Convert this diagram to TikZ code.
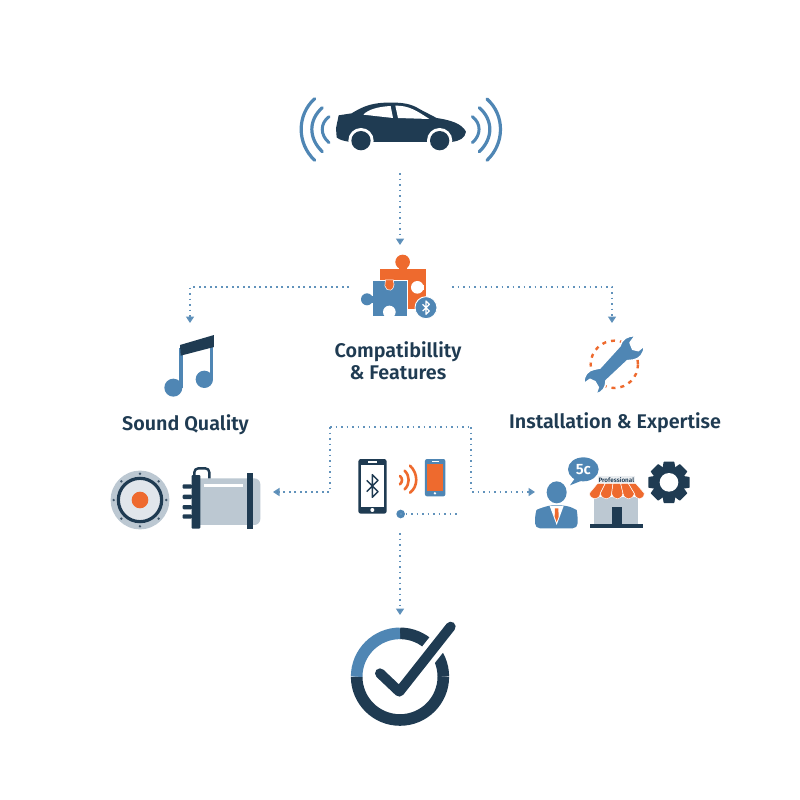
\documentclass[tikz,border=0pt]{standalone}
\usepackage{fontspec}
\setmainfont{Fira Sans SemiBold}
\usetikzlibrary{arrows.meta,calc}
\definecolor{navy}{HTML}{1F3B52}
\definecolor{steel}{HTML}{4F86B4}
\definecolor{flame}{HTML}{EE6A2E}
\definecolor{ash}{HTML}{BCC8D2}
\tikzset{
  px/.style={x=1pt,y=-1pt},
  zoomed/.style 2 args={xshift=#1pt,yshift=-#2pt,x=.3333pt,y=-.3333pt},
  flow/.style={draw=steel!90,line width=1.9pt,dash pattern=on 1.9pt off 3.6pt,-{Triangle[length=6.5pt,width=8pt,fill=steel]}},
  flowplain/.style={draw=steel!90,line width=1.9pt,dash pattern=on 1.9pt off 3.6pt},
  title/.style={text=navy,font=\fontsize{19.75}{22}\selectfont,align=center,inner sep=0pt},
  wave/.style={draw=steel,line width=3.2pt,line cap=round},
  owave/.style={draw=flame,line width=2.6pt,line cap=round},
  awning/.style={fill=flame,draw=white,line width=.5pt,line join=round},
}
\newcommand{\btsym}[3]{% x y size
  (#1-.5*#3,#2+.5*#3) -- (#1+.5*#3,#2-.5*#3) -- (#1,#2-#3) -- (#1,#2+#3) -- (#1+.5*#3,#2+.5*#3) -- (#1-.5*#3,#2-.5*#3)}
\begin{document}
\begin{tikzpicture}[px]
\useasboundingbox (0,0) rectangle (800,800);
\fill[white] (0,0) rectangle (800,800);

% named connector ends
\coordinate (carOut) at (400,173);
\coordinate (puzzleIn) at (400,245);
\coordinate (puzzleL) at (349,287);
\coordinate (puzzleR) at (452,287);
\coordinate (noteIn) at (190,323);
\coordinate (wrenchIn) at (612,323);
\coordinate (busL) at (330,427);
\coordinate (busR) at (471,427);
\coordinate (ampIn) at (273,492);
\coordinate (shopIn) at (535,492);
\coordinate (phoneOut) at (400,533);
\coordinate (checkIn) at (400,615);
\coordinate (linkStart) at (400,514);
\coordinate (linkEnd) at (457,514);

% car
\begin{scope}[zoomed={280}{80}]
\fill[navy] (176,106) -- (215,100) .. controls (240,85) and (265,70) .. (315,68)
  .. controls (370,66) and (395,72) .. (420,88) -- (470,114)
  .. controls (510,120) and (545,130) .. (558,155)
  .. controls (555,175) and (540,182) .. (515,186) -- (210,186)
  .. controls (190,182) and (178,180) .. (170,172) -- (168,145) -- (176,106) -- cycle;
\fill[white] (250,104) .. controls (265,88) and (295,80) .. (332,78) -- (339,114) -- cycle;
\fill[white] (346,77) .. controls (385,76) and (410,92) .. (448,117) -- (354,114) -- cycle;
\fill[white] (243,182) circle (38);
\fill[white] (479,182) circle (38);
\fill[white] (200,187) rectangle (290,215);
\fill[white] (440,187) rectangle (520,215);
\fill[navy] (243,182) circle (29);
\fill[navy] (479,182) circle (29);
\draw[wave,line width=3pt] (147,110) .. controls (120,130) and (120,165) .. (147,188);
\draw[wave] (127,83) .. controls (85,120) and (85,175) .. (127,215);
\draw[wave] (104,56) .. controls (50,105) and (50,190) .. (104,241);
\draw[wave,line width=3pt] (577,110) .. controls (604,130) and (604,165) .. (577,188);
\draw[wave] (598,83) .. controls (640,120) and (640,175) .. (598,215);
\draw[wave] (621,57) .. controls (675,105) and (675,190) .. (621,241);
\end{scope}

% puzzle
\begin{scope}[zoomed={330}{240}]
\fill[flame] (150,88) rectangle (288,180);
\fill[flame] (232,170) rectangle (262,206);
\fill[flame] (218,66) circle (22);
\fill[flame] (206,78) rectangle (230,90);
\fill[white] (262,142) circle (19);
\fill[white] (262,134) rectangle (282,150);
\filldraw[fill=steel,draw=white,line width=.6pt] (128,120) rectangle (232,228);
\fill[steel] (111,178) circle (18);
\fill[steel] (122,168) rectangle (130,188);
\filldraw[fill=flame,draw=white,line width=.5pt] (166,120) -- (166,124) arc (210:-30:14 and 18) -- (190,120) -- cycle;
\fill[white] (178,216) circle (19);
\fill[white] (168,216) rectangle (188,229.5);
\fill[steel] (288,203) circle (33);
\draw[white,line width=.9pt] (288,203) circle (33);
\draw[white,line width=1.2pt,line join=round] \btsym{288}{203}{20};
\end{scope}

\node[title] (compat) at (398,360.5) {Compatibillity\\[-.5pt]\& Features};
\node[title] (sound) at (185.5,424.5) {Sound Quality};
\node[title] (install) at (615,422.5) {Installation \& Expertise};

% note
\begin{scope}[zoomed={150}{325}]
\fill[steel] (70,188) circle (27);
\fill[steel] (163,163) circle (26);
\fill[steel] (88,70) rectangle (98,188);
\fill[steel] (180,40) rectangle (190,163);
\fill[navy] (90,60) -- (192,30) -- (192,66) -- (92,92) -- cycle;
\end{scope}

% wrench
\begin{scope}[zoomed={570}{330}]
\draw[flame,line width=2.4pt,dash pattern=on 4pt off 5pt] (133,103) circle (71);
\filldraw[fill=steel,draw=white,line width=1.5pt,line join=round]
  (150,48) .. controls (155,28) and (172,16) .. (195,18) -- (180,38) -- (188,58) -- (205,62) -- (222,48)
  .. controls (224,70) and (208,88) .. (190,90) -- (172,92) -- (108,152)
  .. controls (108,172) and (98,188) .. (78,192) -- (85,172) -- (75,155) -- (60,148) -- (43,160)
  .. controls (38,138) and (55,120) .. (72,118) -- (90,114) -- cycle;
\end{scope}

% speaker and amplifier
\begin{scope}[zoomed={100}{450}]
\fill[ash] (120,150) circle (88);
\fill[white!55!ash] (120,150) circle (65);
\draw[navy,line width=3.2pt] (120,150) circle (65);
\fill[flame] (120,150) circle (25);
\foreach \a in {0,45,...,315} \fill[navy!85] ($(120,150)+(\a:79)$) circle (4);
\fill[ash,rounded corners=6pt] (280,85) rectangle (481,225);
\draw[navy,line width=2.4pt,rounded corners=4pt] (283,80) -- (283,55) -- (328,55) -- (328,85);
\fill[navy,rounded corners=1pt] (275,75) rectangle (301,236);
\foreach \y in {103,134,165,193} \fill[navy,rounded corners=1pt] (248,\y) rectangle (276,\y+13);
\fill[white] (312,102) rectangle (428,112);
\fill[navy] (442,70) rectangle (458,236);
\end{scope}

% phones
\begin{scope}[zoomed={340}{450}]
\fill[navy,rounded corners=2.5pt] (55,27) rectangle (140,191);
\fill[white] (62,44) rectangle (133,170);
\fill[white] (85,34) rectangle (110,38);
\fill[white] (97,180) circle (6);
\draw[navy,line width=1.5pt,line join=round] \btsym{97}{108}{34};
\draw[owave,line width=2.6pt] (180,78) .. controls (188,85) and (188,95) .. (180,103);
\draw[owave] (194,62) .. controls (210,78) and (210,102) .. (194,118);
\draw[owave] (210,47) .. controls (235,70) and (235,110) .. (210,128);
\fill[steel,rounded corners=2pt] (255,27) rectangle (316,139);
\fill[flame] (262,41) rectangle (310,122);
\fill[white] (285,130) circle (4);
\fill[white] (275,32) rectangle (296,36);
\fill[steel] (182,192) circle (13);
\end{scope}

% person, shop, gear
\begin{scope}[zoomed={525}{450}]
\fill[steel] (95,127) ellipse (30 and 33);
\fill[steel,rounded corners=5pt] (30,235) -- (30,195) .. controls (35,178) and (55,172) .. (72,166) -- (118,166) .. controls (140,172) and (155,180) .. (158,195) -- (158,235) -- cycle;
\fill[white] (74,168) -- (116,168) -- (95,225) -- cycle;
\fill[flame] (90,175) -- (100,175) -- (101,200) -- (95,216) -- (89,200) -- cycle;
\fill[steel] (175,58) ellipse (46 and 36);
\fill[steel] (150,85) -- (135,106) -- (175,90) -- cycle;
\node[text=white,font=\fontsize{15}{15}\selectfont,inner sep=0pt] (fivec) at (175,58) {5c};
\fill[ash] (208,140) rectangle (338,225);
\fill[navy] (260,170) rectangle (290,225);
\fill[navy] (195,222) rectangle (353,234);
\fill[white!70!ash] (218,78) rectangle (330,100);
\node[text=navy,font=\fontsize{6.3}{7}\selectfont,inner sep=0pt] (prof) at (274,89) {Professional};
\path[awning] (218,100) -- (193,130) .. controls (196,152) and (224,152) .. (226,130) -- (241,100) -- cycle;
\path[awning] (241,100) -- (226,130) .. controls (230,152) and (258,152) .. (260,130) -- (264,100) -- cycle;
\path[awning] (264,100) -- (260,130) .. controls (264,152) and (290,152) .. (294,130) -- (287,100) -- cycle;
\path[awning] (287,100) -- (294,130) .. controls (298,152) and (324,152) .. (328,130) -- (310,100) -- cycle;
\path[awning] (310,100) -- (328,130) .. controls (332,152) and (356,152) .. (358,130) -- (332,100) -- cycle;
\fill[navy] (432,97) circle (48);
\foreach \a in {0,45,...,315} \fill[navy,rotate around={\a:(432,97)},rounded corners=.5pt] (416,35) -- (448,35) -- (452,60) -- (412,60) -- cycle;
\fill[white] (432,97) circle (28);
\end{scope}

% check
\begin{scope}[zoomed={340}{610}]
\draw[navy,line width=11.6pt] (50,200) arc (180:0:130);
\draw[navy,line width=11.6pt] (180,70) arc (-90:0:130);
\draw[steel,line width=11.6pt] (50,200) arc (180:270:130);
\draw[white,line width=20pt] (178,245) -- (332,50);
\draw[navy,line width=10pt,line cap=round,line join=round] (120,190) -- (178,245) -- (332,50);
\end{scope}

% connectors
\draw[flow] (carOut) -- (puzzleIn);
\draw[flow] (puzzleL) -| (noteIn);
\draw[flow] (puzzleR) -| (wrenchIn);
\draw[flow] (busL) |- (ampIn);
\draw[flow] (busR) |- (shopIn);
\draw[flowplain] (busL) -- (busR);
\draw[flow] (phoneOut) -- (checkIn);
\draw[flowplain] (linkStart) -- (linkEnd);
\end{tikzpicture}
\end{document}
